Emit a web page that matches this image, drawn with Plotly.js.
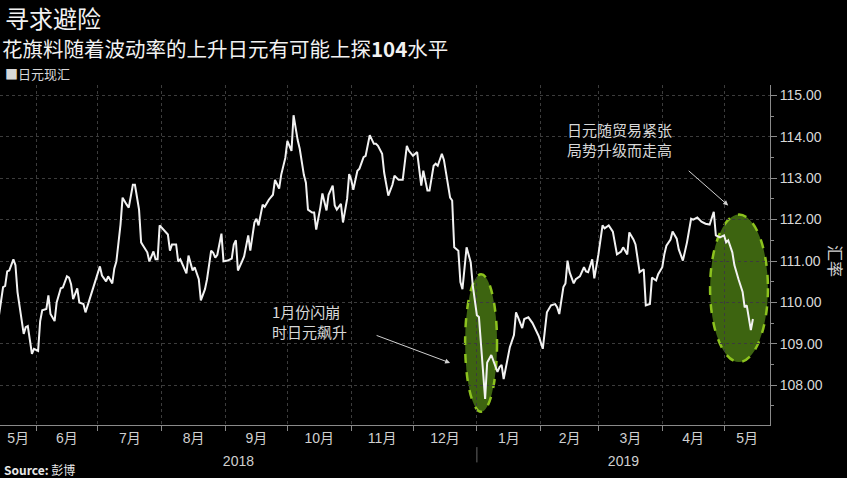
<!DOCTYPE html>
<html><head><meta charset="utf-8">
<script src="https://cdn.plot.ly/plotly-3.0.1.min.js"></script>
<style>html,body{margin:0;padding:0;background:#000;}#chart{width:847px;height:478px;}</style>
</head><body><div id="chart"></div>
<script>
// USD/JPY spot (日元现汇)
const dates = [
"2018-05-14","2018-05-16","2018-05-17","2018-05-18","2018-05-19","2018-05-21","2018-05-22","2018-05-23","2018-05-26","2018-05-27",
"2018-05-28","2018-05-30","2018-05-31","2018-06-02","2018-06-03","2018-06-04","2018-06-06","2018-06-07","2018-06-08","2018-06-10",
"2018-06-11","2018-06-13","2018-06-14","2018-06-16","2018-06-17","2018-06-18","2018-06-19","2018-06-21","2018-06-22","2018-06-24",
"2018-06-25","2018-06-27","2018-06-29","2018-07-02","2018-07-03","2018-07-05","2018-07-06","2018-07-08","2018-07-09","2018-07-10",
"2018-07-12","2018-07-13","2018-07-15","2018-07-16","2018-07-18","2018-07-19","2018-07-21","2018-07-22","2018-07-23","2018-07-25",
"2018-07-26","2018-07-28","2018-07-29","2018-07-30","2018-07-31","2018-08-02","2018-08-04","2018-08-05","2018-08-06","2018-08-08",
"2018-08-09","2018-08-10","2018-08-12","2018-08-13","2018-08-14","2018-08-16","2018-08-17","2018-08-19","2018-08-20","2018-08-22",
"2018-08-23","2018-08-25","2018-08-26","2018-08-27","2018-08-28","2018-08-30","2018-08-31","2018-09-02","2018-09-04","2018-09-05",
"2018-09-06","2018-09-07","2018-09-09","2018-09-10","2018-09-12","2018-09-13","2018-09-15","2018-09-16","2018-09-17","2018-09-19",
"2018-09-20","2018-09-22","2018-09-24","2018-09-25","2018-09-27","2018-09-28","2018-09-30","2018-10-01","2018-10-03","2018-10-04",
"2018-10-06","2018-10-07","2018-10-09","2018-10-10","2018-10-11","2018-10-13","2018-10-14","2018-10-15","2018-10-17","2018-10-18",
"2018-10-20","2018-10-21","2018-10-23","2018-10-24","2018-10-25","2018-10-27","2018-10-28","2018-10-30","2018-10-31","2018-11-01",
"2018-11-02","2018-11-04","2018-11-05","2018-11-07","2018-11-08","2018-11-10","2018-11-12","2018-11-13","2018-11-14","2018-11-16",
"2018-11-17","2018-11-19","2018-11-21","2018-11-22","2018-11-24","2018-11-26","2018-11-28","2018-11-29","2018-12-01","2018-12-02",
"2018-12-03","2018-12-05","2018-12-06","2018-12-08","2018-12-09","2018-12-11","2018-12-12","2018-12-13","2018-12-15","2018-12-16",
"2018-12-18","2018-12-19","2018-12-20","2018-12-21","2018-12-23","2018-12-24","2018-12-25","2018-12-27","2018-12-29","2018-12-30",
"2019-01-01","2019-01-02","2019-01-05","2019-01-06","2019-01-08","2019-01-09","2019-01-11","2019-01-12","2019-01-13","2019-01-14",
"2019-01-16","2019-01-17","2019-01-19","2019-01-20","2019-01-21","2019-01-23","2019-01-24","2019-01-26","2019-01-28","2019-01-29",
"2019-01-31","2019-02-02","2019-02-03","2019-02-04","2019-02-06","2019-02-08","2019-02-09","2019-02-10","2019-02-12","2019-02-13",
"2019-02-14","2019-02-15","2019-02-17","2019-02-18","2019-02-20","2019-02-22","2019-02-23","2019-02-24","2019-02-26","2019-02-27",
"2019-03-01","2019-03-03","2019-03-04","2019-03-06","2019-03-08","2019-03-09","2019-03-10","2019-03-12","2019-03-13","2019-03-15",
"2019-03-16","2019-03-18","2019-03-19","2019-03-21","2019-03-23","2019-03-24","2019-03-26","2019-03-27","2019-03-29","2019-03-30",
"2019-04-01","2019-04-02","2019-04-03","2019-04-05","2019-04-06","2019-04-08","2019-04-09","2019-04-11","2019-04-13","2019-04-15",
"2019-04-16","2019-04-18","2019-04-20","2019-04-22","2019-04-24","2019-04-26","2019-04-27","2019-04-29","2019-05-01","2019-05-02",
"2019-05-03","2019-05-05","2019-05-06","2019-05-08","2019-05-10","2019-05-11","2019-05-12","2019-05-14","2019-05-15"
];
const usdjpy = [
109.69,110.37,110.40,110.75,110.77,111.04,110.90,110.25,109.24,109.40,
109.43,108.76,108.88,108.83,109.55,109.81,109.84,110.17,109.72,109.55,
110.00,110.34,110.36,110.63,110.60,110.44,110.08,110.34,110.00,109.96,
109.76,110.08,110.41,110.87,110.65,110.51,110.63,110.46,110.82,110.99,
111.88,112.53,112.36,112.29,112.84,112.84,112.24,111.45,111.37,111.21,
110.99,111.23,111.04,111.04,111.86,111.74,111.64,111.25,111.40,111.40,
110.99,111.04,110.80,110.70,111.13,110.77,110.85,110.56,110.05,110.32,
110.56,111.25,111.20,111.08,111.15,111.66,110.99,111.01,111.06,111.40,
111.50,110.77,110.99,111.11,111.62,111.25,111.93,112.02,111.86,112.36,
112.31,112.48,112.60,112.96,112.75,113.08,113.49,113.90,113.66,114.52,
113.92,113.71,113.08,112.89,112.24,112.17,112.17,111.76,112.29,112.63,
112.22,112.60,112.82,112.34,112.24,112.38,111.93,112.50,113.10,112.96,
112.72,113.18,113.23,113.51,113.54,114.04,113.83,113.83,113.78,113.59,
113.13,112.58,112.84,113.06,112.96,112.96,113.78,113.66,113.54,113.59,
113.63,112.82,113.18,112.70,112.70,113.30,113.35,113.30,113.59,113.44,
112.87,112.53,112.46,111.33,111.25,110.49,110.32,111.33,110.97,110.41,
109.69,109.65,107.67,108.55,108.73,108.60,108.32,108.44,108.49,108.15,
108.63,108.92,109.21,109.76,109.64,109.38,109.60,109.64,109.50,109.40,
109.19,108.88,109.28,109.76,109.93,109.96,109.88,109.72,110.37,110.46,
111.01,110.73,110.46,110.56,110.63,110.85,110.75,110.73,111.04,110.58,
111.16,111.86,111.79,111.86,111.71,111.47,111.16,111.23,111.33,111.16,
111.69,111.52,111.40,110.73,110.80,109.93,109.96,110.60,110.53,110.68,
110.85,111.16,111.37,111.52,111.71,111.54,111.28,111.01,111.45,112.02,
112.00,112.05,111.95,111.90,111.88,112.19,111.62,111.57,111.62,111.45,
111.50,111.21,110.90,110.56,110.25,109.88,109.93,109.33,109.60
];
const seriesName = "日元现汇";
const monthLabels = ["5月","6月","7月","8月","9月","10月","11月","12月","1月","2月","3月","4月","5月"];
const yearLabels = ["2018","2019"];
const titleText = "寻求避险";
const subtitleText = "花旗料随着波动率的上升日元有可能上探<b>104</b>水平";
const note1 = "1月份闪崩<br>时日元飙升";
const note2 = "日元随贸易紧张<br>局势升级而走高";
const yTitle = "汇率";
const sourceText = "<b>Source:</b> 彭博";

const xStart = Date.UTC(2018,4,14,12);
const xEnd = Date.UTC(2019,4,23,7);

// label positions: middle of the visible part of each month / year
const monthMids = monthLabels.map((_, i) => {
  const a = Math.max(Date.UTC(2018, 4 + i, 1), xStart);
  const b = Math.min(Date.UTC(2018, 5 + i, 1), xEnd);
  return (a + b) / 2;
});
const yearMids = yearLabels.map(y => {
  const a = Math.max(Date.UTC(+y, 0, 1), xStart);
  const b = Math.min(Date.UTC(+y + 1, 0, 1), xEnd);
  return (a + b) / 2;
});

const CJK = '"Noto Sans CJK SC", "Liberation Sans", sans-serif';
const NUM = '"Liberation Sans", "Noto Sans CJK SC", sans-serif';
const grey = '#8a8a8a';
const gridc = '#3c3c3c';

const trace = {
  x: dates, y: usdjpy, type: 'scatter', mode: 'lines', name: seriesName,
  line: {color: '#f2f2f2', width: 2}, showlegend: false, hoverinfo: 'x+y'
};
// same series bound to the year axis (transparent) so that axis is drawn
const yearTrace = {
  x: dates, y: usdjpy, type: 'scatter', mode: 'lines', xaxis: 'x2',
  line: {color: 'rgba(0,0,0,0)', width: 0}, showlegend: false, hoverinfo: 'skip'
};

const layout = {
  width: 847, height: 478,
  paper_bgcolor: '#000', plot_bgcolor: '#000',
  margin: {l: 0, r: 77, t: 85, b: 53},
  font: {family: CJK, color: '#d8d8d8'},
  showlegend: false,
  xaxis: {
    type: 'date', range: [xStart, xEnd],
    tickmode: 'array', tickvals: monthMids, ticktext: monthLabels,
    ticks: '', showgrid: false,
    minor: {tickmode: 'linear', dtick: 'M1', tick0: '2018-06-01', ticks: 'outside', ticklen: 5,
            tickcolor: grey, showgrid: true, gridcolor: gridc, griddash: 'dot', gridwidth: 1},
    showline: true, linecolor: grey, linewidth: 1, zeroline: false,
    tickfont: {family: NUM, size: 14, color: '#d0d0d0'}
  },
  xaxis2: {
    type: 'date', overlaying: 'x', anchor: 'y', side: 'bottom', range: [xStart, xEnd],
    tickmode: 'array', tickvals: yearMids, ticktext: yearLabels,
    showgrid: false, showline: false, zeroline: false, ticks: '',
    ticklabelstandoff: 26,
    tickfont: {family: NUM, size: 14, color: '#d0d0d0'}
  },
  yaxis: {
    side: 'right', range: [107.04, 115.25], tick0: 108, dtick: 1, tickformat: '.2f',
    ticks: 'outside', ticklen: 6, tickcolor: grey,
    minor: {dtick: 0.5, ticks: 'outside', ticklen: 3, tickcolor: grey, showgrid: false},
    showgrid: true, gridcolor: gridc, griddash: 'dot', gridwidth: 1,
    showline: true, linecolor: grey, linewidth: 1, zeroline: false,
    tickfont: {family: NUM, size: 14, color: '#d8d8d8'}
  },
  shapes: [
    {type: 'circle', xref: 'x', yref: 'y', layer: 'below',
     x0: '2018-12-26 07:00', x1: '2019-01-10 19:00', y0: 107.36, y1: 110.68,
     fillcolor: '#3d6410', line: {color: '#8cc21e', width: 2.5, dash: 'dash'}},
    {type: 'circle', xref: 'x', yref: 'y', layer: 'below',
     x0: '2019-04-24 05:00', x1: '2019-05-22 07:00', y0: 108.56, y1: 112.12,
     fillcolor: '#3d6410', line: {color: '#8cc21e', width: 2.5, dash: 'dash'}},
    {type: 'line', xref: 'x', yref: 'paper', x0: '2019-01-01', x1: '2019-01-01',
     y0: -0.065, y1: -0.11, line: {color: '#666', width: 1}}
  ],
  annotations: [
    {text: titleText, xref: 'paper', yref: 'paper', x: 0.004, y: 1.2,
     xanchor: 'left', yanchor: 'middle', showarrow: false,
     font: {family: CJK, size: 24, color: '#f2f2f2'}},
    {text: subtitleText, xref: 'paper', yref: 'paper', x: 0.0, y: 1.1074,
     xanchor: 'left', yanchor: 'middle', showarrow: false,
     font: {family: CJK, size: 20.5, color: '#f2f2f2'}},
    {text: '■' + seriesName, xref: 'paper', yref: 'paper', x: 0.004, y: 1.035,
     xanchor: 'left', yanchor: 'middle', showarrow: false,
     font: {family: CJK, size: 13, color: '#d8d8d8'}},
    {text: yTitle, xref: 'paper', yref: 'paper', x: 1.086, y: 0.482, textangle: 90,
     xanchor: 'center', yanchor: 'middle', showarrow: false,
     font: {family: CJK, size: 16, color: '#d0d0d0'}},
    {text: sourceText, xref: 'paper', yref: 'paper', x: 0.003, y: -0.132,
     xanchor: 'left', yanchor: 'middle', showarrow: false,
     font: {family: CJK, size: 12, color: '#e8e8e8'}},
    {text: note1, xref: 'paper', yref: 'paper', x: 0.3506, y: 0.303, align: 'left',
     xanchor: 'left', yanchor: 'middle', showarrow: false,
     font: {family: CJK, size: 15, color: '#d8d8d8'}},
    {text: note2, xref: 'paper', yref: 'paper', x: 0.7338, y: 0.841, align: 'left',
     xanchor: 'left', yanchor: 'middle', showarrow: false,
     font: {family: CJK, size: 15, color: '#d8d8d8'}},
    {text: '', xref: 'x', yref: 'y', x: '2018-12-19', y: 108.54, ax: -75, ay: -28,
     showarrow: true, arrowhead: 2, arrowsize: 1, arrowwidth: 1, arrowcolor: '#d0d0d0'},
    {text: '', xref: 'x', yref: 'y', x: '2019-05-03', y: 112.34, ax: -41, ay: -36,
     showarrow: true, arrowhead: 2, arrowsize: 1, arrowwidth: 1, arrowcolor: '#d0d0d0'}
  ]
};

Plotly.newPlot('chart', [trace, yearTrace], layout, {displayModeBar: false, staticPlot: true});
</script></body></html>
